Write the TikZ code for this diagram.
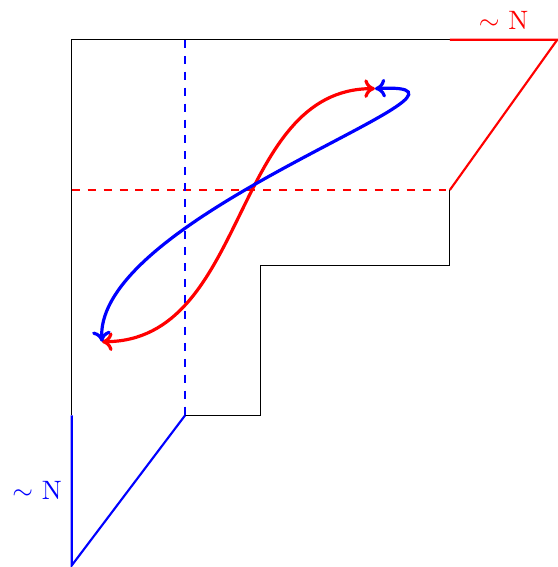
\documentclass[tikz,border=0pt]{standalone}
\usepackage{xcolor}
\usetikzlibrary{arrows.meta,positioning,calc}

\begin{document}
\begin{tikzpicture}[
    x=1cm,y=0.993cm,
    >={To[length=4pt,width=7pt]},
    edge/.style={thin,black},
    redline/.style={red,thick},
    blueline/.style={blue,thick},
    flow/.style={<->,very thick},
    lab/.style={font=\normalsize}
  ]
  \useasboundingbox (-0.948,-0.02) rectangle (6.42,7.53);
  %% Corners of the region
  \coordinate (O)  at (0,0);
  \coordinate (L2) at (0,2);
  \coordinate (L5) at (0,5);
  \coordinate (TL) at (0,7);
  \coordinate (TD) at (1.5,7);
  \coordinate (T5) at (5,7);
  \coordinate (TR) at (6.42,7);
  \coordinate (R5) at (5,5);
  \coordinate (R4) at (5,4);
  \coordinate (S4) at (2.5,4);
  \coordinate (S2) at (2.5,2);
  \coordinate (B2) at (1.5,2);
  %% Boundary
  \draw[edge] (L2) -- (TL) -- (T5);
  \draw[edge] (R5) -- (R4) -- (S4) -- (S2) -- (B2);
  \draw[redline] (T5) -- node[lab,above]{$\sim$ N} (TR) -- (R5);
  \draw[blueline] (L2) -- node[lab,left]{$\sim$ N} (O) -- (B2);
  %% Dashed cuts
  \draw[redline,dashed] (L5) -- (R5);
  \draw[blueline,dashed] (TD) -- (B2);
  %% The two flows
  \coordinate (A) at (0.40,2.98);
  \coordinate (B) at (4.01,6.35);
  \draw[flow,red] (A) .. controls (2.35,2.98) and (2.1,6.35) .. (B);
  \draw[flow,blue] (B) .. controls (6.0,6.45) and (0.3,4.7) .. (A);
\end{tikzpicture}
\end{document}
